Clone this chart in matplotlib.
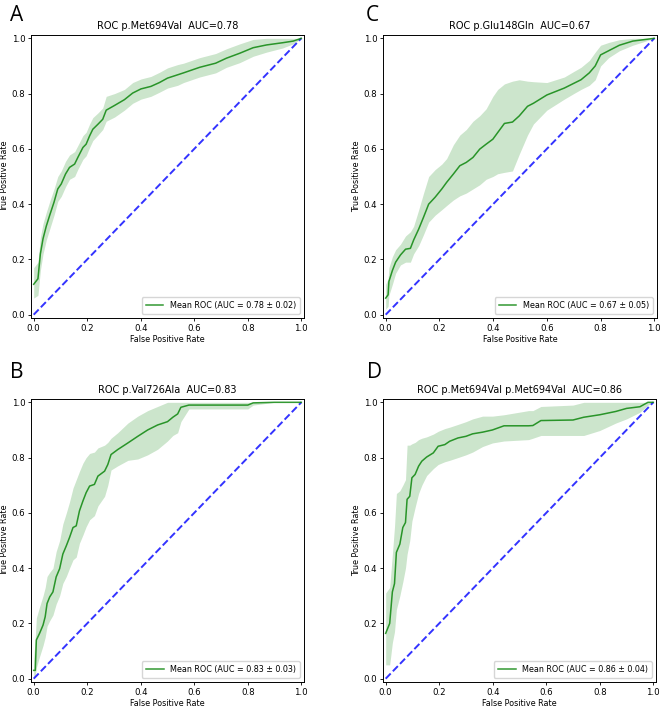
import numpy as np
import matplotlib
matplotlib.use("Agg")
import matplotlib.pyplot as plt

# panel A - p.Met694Val
fpr_a = [0, 0.016, 0.025, 0.035, 0.047, 0.06, 0.076, 0.09, 0.103, 0.119, 0.134, 0.153, 0.165, 0.184,
         0.196, 0.209, 0.221, 0.24, 0.258, 0.271, 0.302, 0.339, 0.37, 0.401, 0.438, 0.47, 0.5, 0.538,
         0.56, 0.62, 0.68, 0.72, 0.77, 0.82, 0.87, 0.93, 0.97, 1.0]
tpr_a = [0.11, 0.13, 0.22, 0.275, 0.32, 0.36, 0.407, 0.455, 0.473, 0.509, 0.533, 0.545, 0.569, 0.605,
         0.617, 0.647, 0.671, 0.689, 0.707, 0.74, 0.757, 0.778, 0.802, 0.817, 0.826, 0.84, 0.856, 0.868,
         0.875, 0.895, 0.91, 0.928, 0.946, 0.966, 0.976, 0.984, 0.99, 1.0]
hi_a = [0.17, 0.19, 0.28, 0.33, 0.37, 0.41, 0.455, 0.50, 0.52, 0.555, 0.578, 0.59, 0.612, 0.648,
        0.66, 0.69, 0.713, 0.73, 0.748, 0.79, 0.80, 0.815, 0.84, 0.853, 0.862, 0.877, 0.893, 0.905,
        0.91, 0.93, 0.945, 0.962, 0.98, 0.996, 1.0, 1.0, 1.0, 1.0]
lo_a = [0.06, 0.07, 0.16, 0.22, 0.27, 0.31, 0.36, 0.41, 0.428, 0.463, 0.49, 0.50, 0.526, 0.562,
        0.575, 0.605, 0.63, 0.65, 0.67, 0.70, 0.715, 0.74, 0.765, 0.78, 0.79, 0.805, 0.82, 0.83,
        0.84, 0.86, 0.875, 0.895, 0.912, 0.935, 0.95, 0.965, 0.98, 1.0]

# panel C - p.Glu148Gln
fpr_c = [0, 0.009, 0.012, 0.025, 0.037, 0.055, 0.074, 0.092, 0.104, 0.123, 0.141, 0.16, 0.184, 0.209,
         0.227, 0.252, 0.276, 0.3, 0.325, 0.35, 0.374, 0.399, 0.417, 0.442, 0.472, 0.497, 0.528, 0.55,
         0.6, 0.665, 0.7, 0.727, 0.758, 0.78, 0.8, 0.83, 0.87, 0.92, 1.0]
tpr_c = [0.06, 0.072, 0.12, 0.16, 0.19, 0.216, 0.237, 0.24, 0.27, 0.31, 0.353, 0.40, 0.425, 0.455,
         0.479, 0.509, 0.539, 0.551, 0.569, 0.599, 0.617, 0.635, 0.659, 0.692, 0.697, 0.719, 0.754, 0.765,
         0.795, 0.82, 0.837, 0.85, 0.875, 0.9, 0.94, 0.955, 0.975, 0.99, 1.0]
hi_c = [0.11, 0.13, 0.17, 0.21, 0.235, 0.255, 0.285, 0.30, 0.32, 0.38, 0.44, 0.50, 0.525, 0.545,
        0.565, 0.615, 0.65, 0.67, 0.70, 0.72, 0.745, 0.79, 0.815, 0.835, 0.845, 0.85, 0.845, 0.843,
        0.84, 0.86, 0.88, 0.895, 0.92, 0.95, 0.975, 0.985, 0.995, 1.0, 1.0]
lo_c = [0.02, 0.03, 0.07, 0.11, 0.15, 0.18, 0.19, 0.19, 0.22, 0.25, 0.29, 0.335, 0.36, 0.38,
        0.395, 0.415, 0.43, 0.44, 0.455, 0.47, 0.49, 0.50, 0.51, 0.515, 0.52, 0.58, 0.65, 0.69,
        0.74, 0.78, 0.80, 0.815, 0.83, 0.85, 0.90, 0.93, 0.955, 0.975, 1.0]

# panel B - p.Val726Ala
fpr_b = [0, 0.006, 0.01, 0.022, 0.035, 0.043, 0.05, 0.06, 0.072, 0.084, 0.097, 0.109, 0.122, 0.134,
         0.147, 0.159, 0.171, 0.184, 0.196, 0.209, 0.227, 0.24, 0.265, 0.277, 0.289, 0.314, 0.352, 0.389,
         0.426, 0.463, 0.5, 0.52, 0.538, 0.55, 0.58, 0.8, 0.82, 0.9, 1.0]
tpr_b = [0.03, 0.03, 0.14, 0.164, 0.194, 0.224, 0.272, 0.296, 0.314, 0.368, 0.398, 0.451, 0.481, 0.511,
         0.547, 0.553, 0.607, 0.643, 0.673, 0.697, 0.703, 0.733, 0.751, 0.775, 0.811, 0.829, 0.853, 0.877,
         0.9, 0.918, 0.93, 0.946, 0.958, 0.982, 0.99, 0.99, 0.998, 1.0, 1.0]
hi_b = [0.074, 0.15, 0.22, 0.26, 0.30, 0.33, 0.37, 0.385, 0.40, 0.46, 0.50, 0.56, 0.60, 0.64,
        0.69, 0.72, 0.75, 0.78, 0.80, 0.815, 0.82, 0.835, 0.845, 0.855, 0.87, 0.89, 0.925, 0.95,
        0.97, 0.985, 1.0, 1.0, 1.0, 1.0, 1.0, 1.0, 1.0, 1.0, 1.0]
lo_b = [0.008, 0.01, 0.04, 0.08, 0.12, 0.15, 0.19, 0.21, 0.23, 0.27, 0.30, 0.345, 0.37, 0.40,
        0.43, 0.44, 0.49, 0.52, 0.55, 0.575, 0.59, 0.625, 0.66, 0.70, 0.755, 0.77, 0.79, 0.795,
        0.81, 0.83, 0.86, 0.88, 0.89, 0.93, 0.976, 0.976, 0.99, 1.0, 1.0]

# panel D - p.Met694Val p.Met694Val
fpr_d = [0, 0.015, 0.025, 0.033, 0.04, 0.053, 0.064, 0.074, 0.08, 0.09, 0.098, 0.11, 0.123, 0.135,
         0.153, 0.178, 0.196, 0.221, 0.239, 0.27, 0.3, 0.325, 0.362, 0.399, 0.442, 0.534, 0.55, 0.58,
         0.7, 0.74, 0.8, 0.86, 0.9, 0.95, 0.98, 1.0]
tpr_d = [0.164, 0.2, 0.314, 0.344, 0.457, 0.487, 0.547, 0.565, 0.649, 0.66, 0.727, 0.739, 0.769, 0.787,
         0.802, 0.817, 0.841, 0.847, 0.859, 0.871, 0.877, 0.886, 0.892, 0.9, 0.915, 0.915, 0.916, 0.934,
         0.936, 0.946, 0.955, 0.967, 0.978, 0.984, 1.0, 1.0]
hi_d = [0.31, 0.33, 0.45, 0.55, 0.67, 0.68, 0.70, 0.72, 0.845, 0.845, 0.85, 0.855, 0.865, 0.87,
        0.875, 0.885, 0.895, 0.905, 0.91, 0.92, 0.93, 0.94, 0.95, 0.95, 0.955, 0.97, 0.97, 0.985,
        0.99, 1.0, 1.0, 1.0, 1.0, 1.0, 1.0, 1.0]
lo_d = [0.05, 0.05, 0.13, 0.17, 0.25, 0.30, 0.35, 0.40, 0.45, 0.50, 0.57, 0.62, 0.67, 0.70,
        0.735, 0.76, 0.775, 0.785, 0.79, 0.80, 0.81, 0.82, 0.84, 0.853, 0.86, 0.865, 0.87, 0.88,
        0.88, 0.88, 0.898, 0.925, 0.94, 0.964, 0.99, 1.0]

titles = ["ROC p.Met694Val  AUC=0.78", "ROC p.Glu148Gln  AUC=0.67",
          "ROC p.Val726Ala  AUC=0.83", "ROC p.Met694Val p.Met694Val  AUC=0.86"]
auc_mean = [0.78, 0.67, 0.83, 0.86]
auc_std = [0.02, 0.05, 0.03, 0.04]
letters = ["A", "C", "B", "D"]

panels = [(fpr_a, tpr_a, lo_a, hi_a), (fpr_c, tpr_c, lo_c, hi_c),
          (fpr_b, tpr_b, lo_b, hi_b), (fpr_d, tpr_d, lo_d, hi_d)]

# axes boxes in pixels: left, top, right, bottom
W, H = 660, 707
boxes = [(31, 35, 304, 318), (383, 35, 657, 318), (31, 399, 304, 682), (383, 399, 656, 682)]
letter_pos = [(10, 5), (366, 5), (10, 362), (367, 362)]

fig = plt.figure(figsize=(W / 100, H / 100), dpi=100)

for i in range(4):
    l, t, r, b = boxes[i]
    ax = fig.add_axes([l / W, 1 - b / H, (r - l) / W, (b - t) / H])
    fpr, tpr, lo, hi = panels[i]
    ax.plot([0, 1], [0, 1], linestyle="--", lw=1.4, color="b", alpha=0.8)
    ax.plot(fpr, tpr, color="green", lw=1.1, alpha=0.8,
            label="Mean ROC (AUC = %0.2f \u00b1 %0.2f)" % (auc_mean[i], auc_std[i]))
    ax.fill_between(fpr, lo, hi, color="green", alpha=0.2, lw=0)
    ax.set_xlim(-0.01, 1.01)
    ax.set_ylim(-0.012, 1.012)
    ax.set_title(titles[i], fontsize=7, pad=4)
    ax.set_xlabel("False Positive Rate", fontsize=5.8, labelpad=2)
    ax.set_ylabel("True Positive Rate", fontsize=5.8, labelpad=2)
    ax.tick_params(labelsize=6.2, length=2.5, width=0.6, pad=1.5)
    for s in ax.spines.values():
        s.set_linewidth(0.7)
    ax.legend(loc="lower right", fontsize=5.8, handlelength=2.2, borderpad=0.5,
              fancybox=True, framealpha=0.8)
    fig.text(letter_pos[i][0] / W, 1 - letter_pos[i][1] / H, letters[i], fontsize=15,
             family="Open Sans", va="top", ha="left")

fig.savefig("out.png", dpi=100)
